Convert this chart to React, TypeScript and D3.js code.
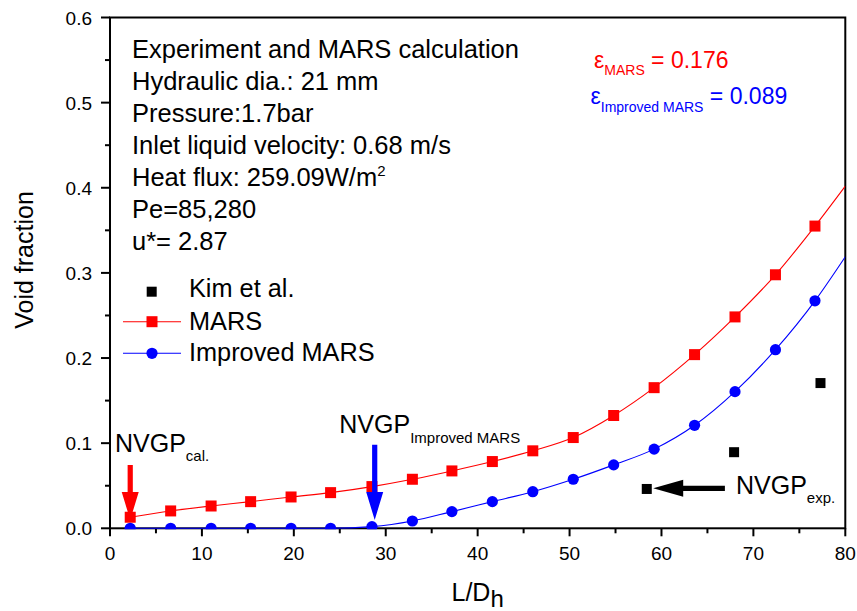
import React from "react";
import * as d3 from "d3";

// L/Dh positions of the calculated nodes
const nodeLD = [2.2, 6.6, 11.0, 15.3, 19.7, 24.0, 28.5, 32.9, 37.2, 41.6, 46.0, 50.4, 54.8, 59.2, 63.6, 68.0, 72.4, 76.7];
// MARS void fraction at each node
const marsVoid = [0.013, 0.0204, 0.0262, 0.0313, 0.0368, 0.0419, 0.049, 0.0576, 0.0674, 0.0784, 0.091, 0.1066, 0.1325, 0.1652, 0.204, 0.2483, 0.2978, 0.355];
// Improved MARS void fraction at each node
const improvedVoid = [0, 0, 0, 0, 0, 0, 0.002, 0.0086, 0.0196, 0.0313, 0.043, 0.0576, 0.0745, 0.093, 0.121, 0.1605, 0.2098, 0.2672];
// Fitted curve continuation at the channel exit (L/Dh = 80)
const curveEndLD = 80;
const marsCurveEnd = 0.402;
const improvedCurveEnd = 0.319;
// Kim et al. measurements
const kimLD = [58.4, 67.9, 77.3];
const kimVoid = [0.0462, 0.0894, 0.1706];

const xTicks = [0, 10, 20, 30, 40, 50, 60, 70, 80];
const xMinor = [5, 15, 25, 35, 45, 55, 65, 75];
const yTicks = [0, 0.1, 0.2, 0.3, 0.4, 0.5, 0.6];
const yMinor = [0.05, 0.15, 0.25, 0.35, 0.45, 0.55];

const infoLines = [
  "Experiment and MARS calculation",
  "Hydraulic dia.: 21 mm",
  "Pressure:1.7bar",
  "Inlet liquid velocity: 0.68 m/s",
  "Heat flux: 259.09W/m",
  "Pe=85,280",
  "u*= 2.87",
];

// Arrow annotations (data coordinates)
const nvgpCal = { x: 2.2, from: 0.0745, to: 0.0098 };
const nvgpImproved = { x: 28.8, from: 0.098, to: 0.0098 };
const nvgpExp = { y: 0.047, from: 66.9, to: 59.1 };

const W = 857;
const H = 611;
const FONT = "'Liberation Sans', Arial, sans-serif";
const RED = "#ff0000";
const BLUE = "#0000ff";

export default function App() {
  const x = d3.scaleLinear().domain([0, 80]).range([110, 845.3]);
  const y = d3.scaleLinear().domain([0, 0.6]).range([528.3, 17.5]);

  const marsPts: [number, number][] = nodeLD.map((v, i) => [v, marsVoid[i]]);
  const impPts: [number, number][] = nodeLD.map((v, i) => [v, improvedVoid[i]]);
  const line = d3
    .line<[number, number]>()
    .x((d) => x(d[0]))
    .y((d) => y(d[1]))
    .curve(d3.curveMonotoneX);
  const marsPath = line([...marsPts, [curveEndLD, marsCurveEnd]]) || "";
  const impPath = line([...impPts, [curveEndLD, improvedCurveEnd]]) || "";

  const x0 = x(0);
  const x1 = x(80);
  const y0 = y(0);
  const y1 = y(0.6);

  const vArrow = (ax: number, from: number, to: number, color: string) => {
    const cx = x(ax);
    const top = y(from);
    const tip = y(to);
    const headLen = 28;
    const hw = 8.5;
    const sw = 2.6;
    const hb = tip - headLen;
    const pts = [
      [cx - sw, top],
      [cx + sw, top],
      [cx + sw, hb],
      [cx + hw, hb],
      [cx, tip],
      [cx - hw, hb],
      [cx - sw, hb],
    ];
    return <polygon points={pts.map((p) => p.join(",")).join(" ")} fill={color} />;
  };

  const hArrow = () => {
    const cy = y(nvgpExp.y);
    const start = x(nvgpExp.from);
    const tip = x(nvgpExp.to);
    const headLen = 30;
    const hw = 8.5;
    const sw = 2.6;
    const hb = tip + headLen;
    const pts = [
      [start, cy - sw],
      [start, cy + sw],
      [hb, cy + sw],
      [hb, cy + hw],
      [tip, cy],
      [hb, cy - hw],
      [hb, cy - sw],
    ];
    return <polygon points={pts.map((p) => p.join(",")).join(" ")} fill="#000" />;
  };

  return (
    <svg
      width={W}
      height={H}
      style={{ position: "absolute", left: 0, top: 0, background: "#fff" }}
      fontFamily={FONT}
    >
      <defs>
        <clipPath id="plotClip">
          <rect x={x0} y={y1} width={x1 - x0} height={y0 - y1 + 1} />
        </clipPath>
      </defs>
      <rect x={0} y={0} width={W} height={H} fill="#fff" />

      {/* frame and ticks */}
      <g stroke="#000" strokeWidth={2}>
        <rect x={x0} y={y1} width={x1 - x0} height={y0 - y1} fill="none" />
        {xTicks.map((t) => (
          <line key={"xt" + t} x1={x(t)} x2={x(t)} y1={y0} y2={y0 + 8} />
        ))}
        {xMinor.map((t) => (
          <line key={"xm" + t} x1={x(t)} x2={x(t)} y1={y0} y2={y0 + 5} />
        ))}
        {yTicks.map((t) => (
          <line key={"yt" + t} x1={x0 - 9} x2={x0} y1={y(t)} y2={y(t)} />
        ))}
        {yMinor.map((t) => (
          <line key={"ym" + t} x1={x0 - 5} x2={x0} y1={y(t)} y2={y(t)} />
        ))}
      </g>
      <g fontSize={19} fill="#000">
        {xTicks.map((t) => (
          <text key={"xl" + t} x={x(t)} y={560} textAnchor="middle">
            {t}
          </text>
        ))}
        {yTicks.map((t) => (
          <text key={"yl" + t} x={92} y={y(t) + 7} textAnchor="end">
            {t.toFixed(1)}
          </text>
        ))}
      </g>

      {/* axis titles */}
      <text x={451.5} y={601} fontSize={25}>
        L/D
        <tspan fontSize={24} dy={6}>
          h
        </tspan>
      </text>
      <text transform="translate(33,260) rotate(-90)" textAnchor="middle" fontSize={25}>
        Void fraction
      </text>

      {/* series */}
      <g clipPath="url(#plotClip)">
        <path d={marsPath} fill="none" stroke={RED} strokeWidth={1.1} />
        <path d={impPath} fill="none" stroke={BLUE} strokeWidth={1.1} />
        {marsPts.map((d, i) => (
          <rect key={"m" + i} x={x(d[0]) - 5.5} y={y(d[1]) - 5.5} width={11} height={11} fill={RED} />
        ))}
        {impPts.map((d, i) => (
          <circle key={"c" + i} cx={x(d[0])} cy={y(d[1])} r={5.6} fill={BLUE} />
        ))}
        {kimLD.map((v, i) => (
          <rect key={"k" + i} x={x(v) - 5} y={y(kimVoid[i]) - 5} width={10} height={10} fill="#000" />
        ))}
      </g>

      {/* arrows */}
      {vArrow(nvgpCal.x, nvgpCal.from, nvgpCal.to, RED)}
      {vArrow(nvgpImproved.x, nvgpImproved.from, nvgpImproved.to, BLUE)}
      {hArrow()}

      {/* arrow labels */}
      <text x={115} y={451.7} fontSize={25}>
        NVGP
        <tspan fontSize={15} dy={9}>
          cal.
        </tspan>
      </text>
      <text x={339.3} y={433.3} fontSize={25}>
        NVGP
        <tspan fontSize={15} dy={9.7}>
          Improved MARS
        </tspan>
      </text>
      <text x={736} y={494.3} fontSize={25}>
        NVGP
        <tspan fontSize={15} dy={9}>
          exp.
        </tspan>
      </text>

      {/* condition notes */}
      <g fontSize={25.5} fill="#000">
        {infoLines.map((s, i) => (
          <text key={"info" + i} x={132} y={58.3 + i * 32}>
            {s}
            {i === 4 ? (
              <tspan fontSize={15} dy={-10}>
                2
              </tspan>
            ) : null}
          </text>
        ))}
      </g>

      {/* error values */}
      <text x={594} y={68.3} fontSize={23} fill={RED}>
        ε
        <tspan fontSize={14} dy={7}>
          MARS
        </tspan>
        <tspan dy={-7}> = 0.176</tspan>
      </text>
      <text x={590.5} y={104} fontSize={23} fill={BLUE}>
        ε
        <tspan fontSize={14} dy={7.5}>
          Improved MARS
        </tspan>
        <tspan dy={-7.5}> = 0.089</tspan>
      </text>

      {/* legend */}
      <g>
        <rect x={146.7} y={286.7} width={10} height={10} fill="#000" />
        <text x={189} y={296.7} fontSize={25.3}>
          Kim et al.
        </text>
        <line x1={123} x2={181} y1={321.7} y2={321.7} stroke={RED} strokeWidth={1.1} />
        <rect x={146.5} y={316.2} width={11} height={11} fill={RED} />
        <text x={189} y={330} fontSize={25.3}>
          MARS
        </text>
        <line x1={123} x2={181} y1={353.3} y2={353.3} stroke={BLUE} strokeWidth={1.1} />
        <circle cx={152} cy={353.3} r={5.6} fill={BLUE} />
        <text x={189} y={361} fontSize={25.3}>
          Improved MARS
        </text>
      </g>
    </svg>
  );
}
